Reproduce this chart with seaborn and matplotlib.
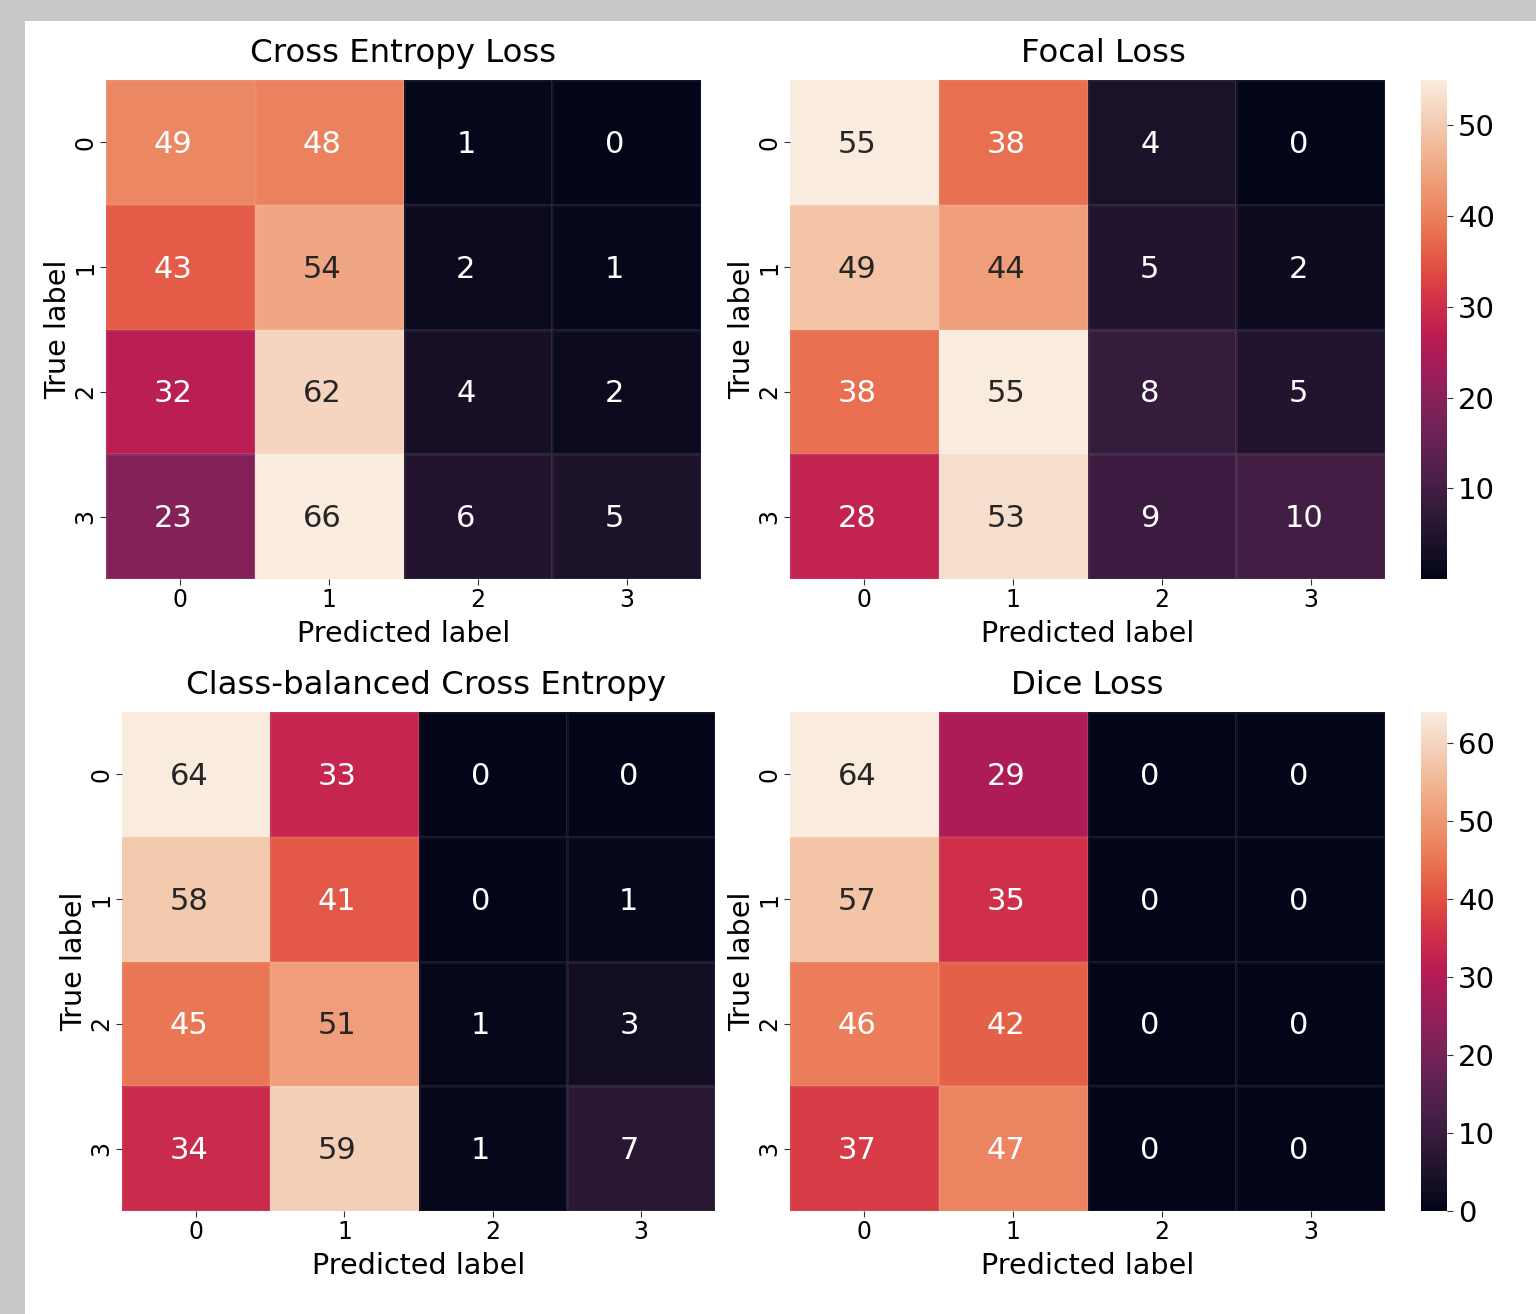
import numpy as np
import matplotlib
matplotlib.use("Agg")
import matplotlib.pyplot as plt
from matplotlib.patches import Rectangle
from matplotlib.colors import ListedColormap
from matplotlib.transforms import offset_copy
import seaborn as sns

# Confusion matrices (rows: true label, columns: predicted label)
classes = ["0", "1", "2", "3"]
cross_entropy = [[49, 48, 1, 0],
                 [43, 54, 2, 1],
                 [32, 62, 4, 2],
                 [23, 66, 6, 5]]
focal = [[55, 38, 4, 0],
         [49, 44, 5, 2],
         [38, 55, 8, 5],
         [28, 53, 9, 10]]
class_balanced = [[64, 33, 0, 0],
                  [58, 41, 0, 1],
                  [45, 51, 1, 3],
                  [34, 59, 1, 7]]
dice = [[64, 29, 0, 0],
        [57, 35, 0, 0],
        [46, 42, 0, 0],
        [37, 47, 0, 0]]
titles = ["Cross Entropy Loss", "Focal Loss",
          "Class-balanced Cross Entropy", "Dice Loss"]
focal_cbar_ticks = [10, 20, 30, 40, 50]

plt.rcParams["font.family"] = ["DejaVu Sans"]

# slightly muted version of seaborn's "rocket" palette
base = sns.color_palette("rocket", as_cmap=True)(np.linspace(0, 1, 256))[:, :3]
lum = (base @ np.array([0.299, 0.587, 0.114]))[:, None]
muted = ListedColormap(np.clip(base * 0.9 + lum * 0.1, 0, 1))

W, H = 1536, 1314
fig = plt.figure(figsize=(W / 100, H / 100), dpi=100)
fig.patch.set_facecolor("#c8c8c8")
fig.patches.append(Rectangle((25 / W, 0), 1 - 25 / W, 1 - 21 / H,
                             transform=fig.transFigure, facecolor="white",
                             edgecolor="none", zorder=-10))


def box(x0, y0, x1, y1):
    return fig.add_axes([x0 / W, 1 - y1 / H, (x1 - x0) / W, (y1 - y0) / H])


ax_ce = box(106, 80, 701, 579)
ax_fl = box(790, 80, 1385, 579)
cax_top = box(1421, 80, 1447, 579)
ax_cb = box(122, 712, 715, 1211)
ax_dc = box(790, 712, 1385, 1211)
cax_bot = box(1421, 712, 1447, 1211)

panels = [
    (ax_ce, cross_entropy, titles[0], None, 0.5),
    (ax_fl, focal, titles[1], cax_top, 0.526),
    (ax_cb, class_balanced, titles[2], None, 0.513),
    (ax_dc, dice, titles[3], cax_bot, 0.5),
]

for ax, mat, title, cax, tx in panels:
    sns.heatmap(np.array(mat), ax=ax, annot=True, fmt="d", cmap=muted,
                cbar=cax is not None, cbar_ax=cax,
                xticklabels=classes, yticklabels=classes,
                linewidths=1, linecolor=(1, 1, 1, 0.06),
                annot_kws={"size": 22})
    # nudge the cell annotations a little to the left and down
    for t in ax.texts:
        dx = -17 + 5 * len(t.get_text())
        t.set_transform(offset_copy(t.get_transform(), fig=fig,
                                    x=dx, y=-2, units="dots"))
    ax.set_title(title, fontsize=23.3, x=tx, pad=13)
    ax.set_xlabel("Predicted label", fontsize=20.6, labelpad=5.5)
    ax.set_ylabel("True label", fontsize=20.6, labelpad=1)
    ax.tick_params(axis="both", labelsize=17, length=4.5, color="#333333")
    ax.tick_params(axis="x", pad=2)
    ax.tick_params(axis="y", pad=1.5)
    plt.setp(ax.get_yticklabels(), rotation=90, va="center")
    plt.setp(ax.get_xticklabels(), rotation=0)

cax_top.yaxis.set_ticks(focal_cbar_ticks)
for cax in (cax_top, cax_bot):
    cax.tick_params(labelsize=21, length=4.5, color="#333333")

fig.savefig("out.png", dpi=100, facecolor=fig.get_facecolor())
